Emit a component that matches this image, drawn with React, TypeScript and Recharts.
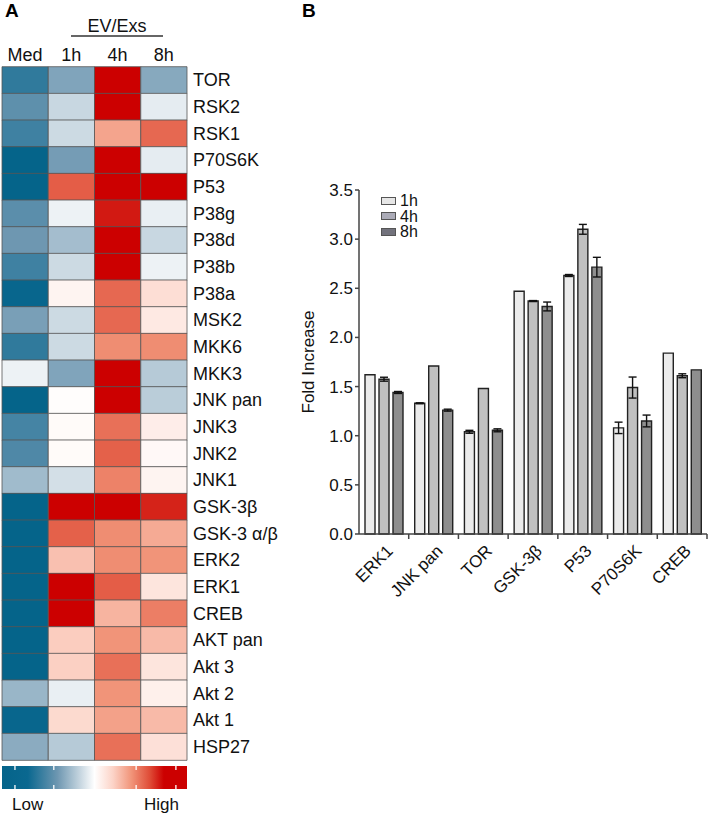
import React from 'react';
import { BarChart, Bar, XAxis, YAxis, Cell, ErrorBar, Legend } from 'recharts';

// ---------- Panel A: heatmap data ----------
const heatGenes = ['TOR', 'RSK2', 'RSK1', 'P70S6K', 'P53', 'P38g', 'P38d', 'P38b', 'P38a', 'MSK2', 'MKK6', 'MKK3', 'JNK pan', 'JNK3', 'JNK2', 'JNK1', 'GSK-3β', 'GSK-3 α/β', 'ERK2', 'ERK1', 'CREB', 'AKT pan', 'Akt 3', 'Akt 2', 'Akt 1', 'HSP27'];
const heatColumns = ['Med', '1h', '4h', '8h'];
const heatMed = [-0.6, -0.45, -0.55, -1, -1, -0.46, -0.4, -0.55, -0.85, -0.37, -0.6, -0.05, -1, -0.53, -0.5, -0.26, -1, -1, -1, -1, -1, -1, -1, -0.28, -0.85, -0.32];
const heat1h = [-0.35, -0.15, -0.14, -0.38, 0.55, -0.05, -0.25, -0.14, 0.05, -0.14, -0.14, -0.35, 0.01, 0.02, 0.02, -0.12, 1, 0.54, 0.26, 1, 1, 0.22, 0.21, -0.06, 0.17, -0.2];
const heat4h = [1, 1, 0.35, 1, 1, 0.7, 1, 1, 0.52, 0.52, 0.42, 1, 1, 0.5, 0.54, 0.45, 1, 0.42, 0.42, 0.55, 0.3, 0.4, 0.5, 0.4, 0.36, 0.5];
const heat8h = [-0.33, -0.07, 0.52, -0.07, 1, -0.06, -0.15, -0.05, 0.15, 0.1, 0.42, -0.2, -0.19, 0.08, 0.03, 0.05, 0.68, 0.33, 0.4, 0.12, 0.46, 0.28, 0.12, 0.07, 0.28, 0.14];
const heatSeries = [heatMed, heat1h, heat4h, heat8h];
const colorbarTickValues = [-0.86, -0.44, 0.45, 0.88];

// ---------- Panel B: bar data ----------
const barCategories = ['ERK1', 'JNK pan', 'TOR', 'GSK-3β', 'P53', 'P70S6K', 'CREB'];
const fold1h = [1.62, 1.33, 1.04, 2.47, 2.63, 1.08, 1.84];
const fold4h = [1.575, 1.71, 1.48, 2.37, 3.1, 1.49, 1.61];
const fold8h = [1.44, 1.26, 1.055, 2.315, 2.715, 1.15, 1.67];
const err1h = [0, 0.005, 0.015, 0, 0.01, 0.058, 0];
const err4h = [0.02, 0, 0, 0.005, 0.05, 0.107, 0.02];
const err8h = [0.01, 0.01, 0.015, 0.045, 0.1, 0.06, 0];
const seriesNames = ['1h', '4h', '8h'];
const yTicks = [0, 0.5, 1, 1.5, 2, 2.5, 3, 3.5];

// ---------- styles ----------
const FONT = '"Liberation Sans", Arial, Helvetica, sans-serif';
const colorStops: [number, string][] = [
  [-1, '#05648a'],
  [-0.72, '#0a6890'],
  [-0.4, '#6e97b1'],
  [-0.15, '#c8d7e1'],
  [0, '#ffffff'],
  [0.2, '#fcd3c7'],
  [0.4, '#f19479'],
  [0.6, '#df4b36'],
  [0.75, '#cc0000'],
  [1, '#cc0000'],
];
const barFills = ['#ebebeb', '#c0c0c0', '#8e8e8e'];
const legendFills = ['#e6e6e6', '#ababb7', '#72727c'];

function hexToRgb(h: string) {
  const n = parseInt(h.slice(1), 16);
  return [(n >> 16) & 255, (n >> 8) & 255, n & 255];
}
function heatColor(v: number) {
  const c = Math.max(-1, Math.min(1, v));
  for (let i = 0; i < colorStops.length - 1; i++) {
    const [a, ca] = colorStops[i];
    const [b, cb] = colorStops[i + 1];
    if (c >= a && c <= b) {
      const t = b === a ? 0 : (c - a) / (b - a);
      const A = hexToRgb(ca);
      const B = hexToRgb(cb);
      const r = A.map((x, k) => Math.round(x + (B[k] - x) * t));
      return `rgb(${r[0]},${r[1]},${r[2]})`;
    }
  }
  return colorStops[colorStops.length - 1][1];
}

const heatTable = heatGenes.map((g) => ({
  gene: g,
  c0: 1, c1: 1, c2: 1, c3: 1,
}));

const barTable = barCategories.map((c, i) => ({
  name: c,
  v1: fold1h[i], v4: fold4h[i], v8: fold8h[i],
  e1: err1h[i], e4: err4h[i], e8: err8h[i],
}));

const CatTick = (props: any) => {
  const { x, y, payload, width, visibleTicksCount } = props;
  const half = payload && payload.offset ? payload.offset : width / (visibleTicksCount || 7) / 2;
  const tx = x + 10;
  const ty = y + 18;
  return (
    <g>
      <line x1={x + half} x2={x + half} y1={y} y2={y + 5} stroke="#444" strokeWidth={1.5} />
      <text x={tx} y={ty} transform={`rotate(-45, ${tx}, ${ty})`} textAnchor="end" fontSize={17} fill="#111" fontFamily={FONT}>
        {payload.value}
      </text>
    </g>
  );
};

const YLabel = (props: any) => {
  const vb = props.viewBox || {};
  const cx = (vb.x || 0) + 28;
  const cy = (vb.y || 0) + (vb.height || 0) / 2;
  return (
    <text x={cx} y={cy} transform={`rotate(-90, ${cx}, ${cy})`} textAnchor="middle" dominantBaseline="central" fontSize={17} fill="#111" fontFamily={FONT}>
      Fold Increase
    </text>
  );
};

const LegendContent = () => (
  <div style={{ fontFamily: FONT, fontSize: 16, color: '#111' }}>
    {seriesNames.map((s, i) => (
      <div key={s} style={{ height: 15.5, lineHeight: '15.5px', display: 'flex', alignItems: 'center' }}>
        <span style={{ display: 'inline-block', width: 13, height: 6, background: legendFills[i], border: '1px solid #555', marginRight: 4 }} />
        <span>{s}</span>
      </div>
    ))}
  </div>
);

export default function App() {
  const cbX = 2, cbY = 766, cbW = 185, cbH = 23;
  return (
    <div style={{ position: 'absolute', left: 0, top: 0, width: 709, height: 816, background: '#fff', fontFamily: FONT }}>
      {/* Panel A heatmap */}
      <div style={{ position: 'absolute', left: 0, top: 0 }}>
        <BarChart width={290} height={770} data={heatTable} layout="vertical" barCategoryGap={0}
          margin={{ top: 36.7, right: 3, bottom: 10, left: 2 }}>
          <XAxis type="number" orientation="top" domain={[0, 4]} ticks={[0.5, 1.5, 2.5, 3.5]}
            tickFormatter={(v: number) => heatColumns[Math.floor(v)]} height={30}
            axisLine={false} tickLine={false} tickSize={4} tickMargin={2}
            tick={{ fontSize: 18, fill: '#111', fontFamily: FONT }} />
          <YAxis type="category" dataKey="gene" orientation="right" width={100} interval={0}
            axisLine={false} tickLine={false} tickSize={4} tickMargin={2}
            tick={{ fontSize: 18, fill: '#111', fontFamily: FONT, textAnchor: 'start' }} />
          {[0, 1, 2, 3].map((col) => (
            <Bar key={col} dataKey={`c${col}`} stackId="h" isAnimationActive={false}>
              {heatTable.map((_, r) => (
                <Cell key={r} fill={heatColor(heatSeries[col][r])} stroke="#555" strokeWidth={0.8} />
              ))}
            </Bar>
          ))}
        </BarChart>
      </div>

      {/* Panel B bar chart */}
      <div style={{ position: 'absolute', left: 280, top: 170 }}>
        <BarChart width={429} height={450} data={barTable} barSize={10} barGap={4}
          margin={{ top: 20, right: 2, bottom: 6, left: 0 }}>
          <XAxis dataKey="name" height={80} interval={0} stroke="#444" strokeWidth={1.5}
            tickLine={false} tickSize={0} tickMargin={0} tick={<CatTick />} />
          <YAxis domain={[0, 3.5]} ticks={yTicks} width={79} stroke="#444" strokeWidth={1.5}
            tickSize={4} tickMargin={2} tickFormatter={(v: number) => v.toFixed(1)}
            tick={{ fontSize: 17, fill: '#111', fontFamily: FONT }}
            label={{ content: <YLabel /> }} />
          <Legend layout="vertical" align="center" verticalAlign="middle"
            wrapperStyle={{ left: 101, top: 23, width: 60, height: 50, right: 'auto', bottom: 'auto' }} content={<LegendContent />} />
          <Bar dataKey="v1" name="1h" fill={barFills[0]} stroke="#222" strokeWidth={1.4} isAnimationActive={false}>
            <ErrorBar dataKey="e1" width={4} stroke="#111" strokeWidth={1.4} />
          </Bar>
          <Bar dataKey="v4" name="4h" fill={barFills[1]} stroke="#222" strokeWidth={1.4} isAnimationActive={false}>
            <ErrorBar dataKey="e4" width={4} stroke="#111" strokeWidth={1.4} />
          </Bar>
          <Bar dataKey="v8" name="8h" fill={barFills[2]} stroke="#222" strokeWidth={1.4} isAnimationActive={false}>
            <ErrorBar dataKey="e8" width={4} stroke="#111" strokeWidth={1.4} />
          </Bar>
        </BarChart>
      </div>

      {/* Overlay: panel letters, group header, colour bar */}
      <svg width={709} height={816} style={{ position: 'absolute', left: 0, top: 0, pointerEvents: 'none' }}>
        <defs>
          <linearGradient id="heatGrad" x1="0" x2="1" y1="0" y2="0">
            {colorStops.map(([v, c], i) => (
              <stop key={i} offset={(v + 1) / 2} stopColor={c} />
            ))}
          </linearGradient>
        </defs>
        <text x={5} y={17} fontSize={19} fontWeight="bold" fill="#000" fontFamily={FONT}>A</text>
        <text x={302} y={17} fontSize={19} fontWeight="bold" fill="#000" fontFamily={FONT}>B</text>
        <text x={117} y={32} fontSize={18} textAnchor="middle" fill="#111" fontFamily={FONT}>EV/Exs</text>
        <line x1={71} x2={163} y1={36} y2={36} stroke="#333" strokeWidth={1.3} />
        <rect x={cbX} y={cbY} width={cbW} height={cbH} fill="url(#heatGrad)" />
        {colorbarTickValues.map((v, i) => {
          const x = cbX + ((v + 1) / 2) * cbW;
          return (
            <g key={i}>
              <line x1={x} x2={x} y1={cbY} y2={cbY + 4} stroke="#fff" strokeWidth={1.3} />
              <line x1={x} x2={x} y1={cbY + cbH - 4} y2={cbY + cbH} stroke="#fff" strokeWidth={1.3} />
            </g>
          );
        })}
        <text x={12} y={810} fontSize={17} fill="#111" fontFamily={FONT}>Low</text>
        <text x={179} y={810} fontSize={17} textAnchor="end" fill="#111" fontFamily={FONT}>High</text>
      </svg>
    </div>
  );
}
